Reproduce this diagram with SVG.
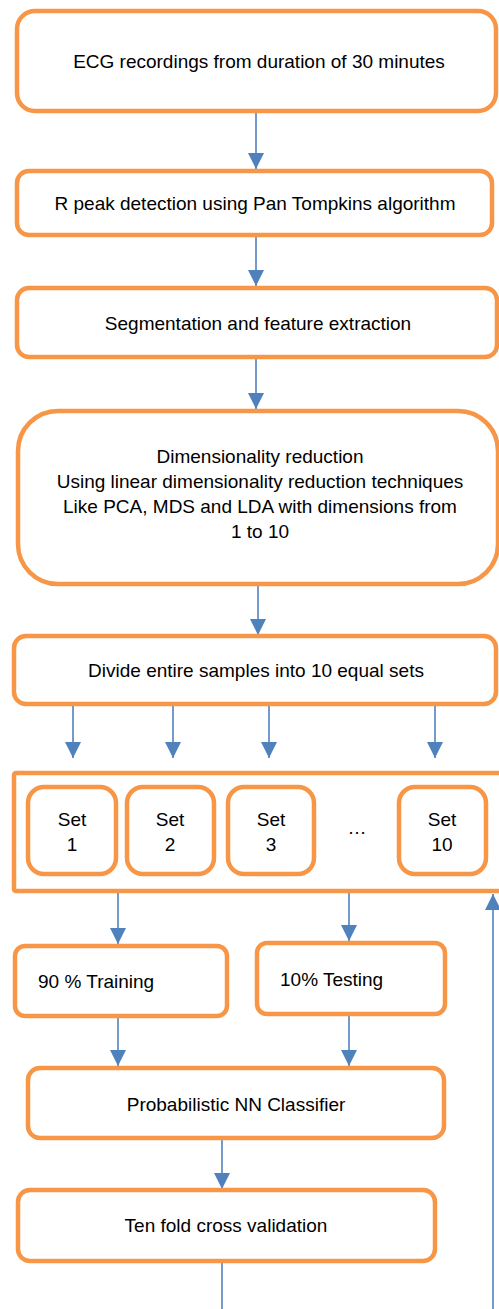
<svg xmlns="http://www.w3.org/2000/svg" width="499" height="1309" viewBox="0 0 499 1309">
<style>
.box{fill:#ffffff;stroke:#f79646;stroke-width:4.5}
.t{font-family:"Liberation Sans",Arial,sans-serif;font-size:19px;fill:#000000}
.c{text-anchor:middle}
.ln{stroke:#4f81bd;stroke-width:1.6;fill:none}
.ar{marker-end:url(#ah)}
</style>
<defs>
<marker id="ah" markerUnits="userSpaceOnUse" markerWidth="16" markerHeight="18" refX="16" refY="8" orient="auto">
<path d="M0,0 L16,8 L0,16 Z" fill="#4f81bd"/>
</marker>
</defs>
<rect x="0" y="0" width="499" height="1309" fill="#ffffff"/>
<g id="connectors">
<line class="ln ar" x1="256" y1="113" x2="256" y2="169"/>
<line class="ln ar" x1="256" y1="237" x2="256" y2="286"/>
<line class="ln ar" x1="256" y1="359" x2="256" y2="409"/>
<line class="ln ar" x1="258" y1="586" x2="258" y2="635"/>
<line class="ln ar" x1="73" y1="706" x2="73" y2="758"/>
<line class="ln ar" x1="173" y1="706" x2="173" y2="758"/>
<line class="ln ar" x1="269" y1="706" x2="269" y2="758"/>
<line class="ln ar" x1="435" y1="706" x2="435" y2="758"/>
<line class="ln ar" x1="118" y1="893" x2="118" y2="944"/>
<line class="ln ar" x1="349" y1="893" x2="349" y2="941"/>
<line class="ln ar" x1="118" y1="1018" x2="118" y2="1066"/>
<line class="ln ar" x1="349" y1="1016" x2="349" y2="1066"/>
<line class="ln ar" x1="222" y1="1140" x2="222" y2="1189"/>
<line class="ln" x1="222" y1="1263" x2="222" y2="1309"/>
<line class="ln ar" x1="493" y1="1309" x2="493" y2="894"/>
</g>
<g id="n1"><rect class="box" x="17" y="11" width="479" height="100" rx="18"/><text class="t c" x="259" y="68">ECG recordings from duration of 30 minutes</text></g>
<g id="n2"><rect class="box" x="17" y="171" width="475" height="64" rx="12"/><text class="t c" x="255" y="210">R peak detection using Pan Tompkins algorithm</text></g>
<g id="n3"><rect class="box" x="17" y="288" width="480" height="69" rx="12"/><text class="t c" x="258" y="330">Segmentation and feature extraction</text></g>
<g id="n4"><rect class="box" x="18" y="411" width="480" height="173" rx="40"/>
<text class="t c" x="260" y="463">Dimensionality reduction</text>
<text class="t c" x="260" y="488">Using linear dimensionality reduction techniques</text>
<text class="t c" x="260" y="513">Like PCA, MDS and LDA with dimensions from</text>
<text class="t c" x="260" y="538">1 to 10</text></g>
<g id="n5"><rect class="box" x="14" y="636" width="482" height="68" rx="12"/><text class="t c" x="256" y="677">Divide entire samples into 10 equal sets</text></g>
<g id="sets"><rect class="box" x="14" y="773" width="500" height="118" rx="2"/>
<text class="t c" x="357" y="834">…</text></g>
<g id="set1"><rect class="box" x="28" y="787" width="88" height="87" rx="16"/><text class="t c" x="72" y="826">Set</text><text class="t c" x="72" y="851">1</text></g>
<g id="set2"><rect class="box" x="127" y="787" width="87" height="87" rx="16"/><text class="t c" x="170" y="826">Set</text><text class="t c" x="170" y="851">2</text></g>
<g id="set3"><rect class="box" x="228" y="787" width="86" height="87" rx="16"/><text class="t c" x="271" y="826">Set</text><text class="t c" x="271" y="851">3</text></g>
<g id="set10"><rect class="box" x="399" y="787" width="87" height="87" rx="16"/><text class="t c" x="442" y="826">Set</text><text class="t c" x="442" y="851">10</text></g>
<g id="train"><rect class="box" x="15" y="946" width="212" height="70" rx="10"/><text class="t" x="38" y="988">90 % Training</text></g>
<g id="test"><rect class="box" x="257" y="943" width="188" height="71" rx="10"/><text class="t" x="280" y="986">10% Testing</text></g>
<g id="pnn"><rect class="box" x="28" y="1068" width="416" height="70" rx="12"/><text class="t c" x="236" y="1111">Probabilistic NN Classifier</text></g>
<g id="tenfold"><rect class="box" x="18" y="1190" width="417" height="71" rx="12"/><text class="t c" x="226" y="1232">Ten fold cross validation</text></g>
</svg>
